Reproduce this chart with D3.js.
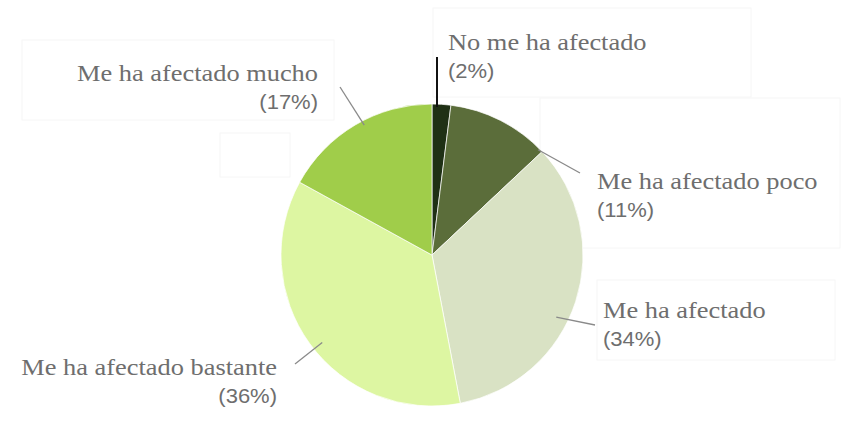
<!DOCTYPE html>
<html>
<head>
<meta charset="utf-8">
<script src="https://cdn.jsdelivr.net/npm/d3@7"></script>
<style>
  html, body { margin: 0; padding: 0; background: #ffffff; }
  svg { display: block; }
  .lbl { font-family: "Liberation Serif", "Tinos", "DejaVu Serif", serif; }
  .pct { font-family: "Liberation Sans", Arimo, Arial, sans-serif; }
</style>
</head>
<body>
<svg id="chart" width="848" height="421"></svg>
<script>
// ---- data ----
const categories = ["No me ha afectado", "Me ha afectado poco", "Me ha afectado", "Me ha afectado bastante", "Me ha afectado mucho"];
const values = [2, 11, 34, 36, 17];
const percentLabels = ["(2%)", "(11%)", "(34%)", "(36%)", "(17%)"];

// ---- styles / layout ----
const colors = ["#1f3015", "#5b6d3a", "#d9e2c4", "#ddf6a2", "#a0cd4a"];
const width = 848, height = 421;
const cx = 432, cy = 255, R = 151;

// label layout: text anchor point, alignment, leader (t within slice, radius fraction, outer end)
const labelLayout = [
  { x: 448, y: 50, anchor: "start", lt: 0.27, lr: 0.98, ex: 437, ey: 57, lc: "#111111", lw: 2 },
  { x: 597, y: 189, anchor: "start", lt: 0.96, lr: 0.99, ex: 580, ey: 173, lc: "#8a8a8a", lw: 1.3 },
  { x: 603, y: 318, anchor: "start", lt: 0.57, lr: 0.92, ex: 595, ey: 325, lc: "#8a8a8a", lw: 1.3 },
  { x: 277, y: 375, anchor: "end", lt: 0.48, lr: 0.93, ex: 295, ey: 364, lc: "#8a8a8a", lw: 1.3 },
  { x: 318, y: 81, anchor: "end", lt: 0.55, lr: 0.97, ex: 340, ey: 87, lc: "#8a8a8a", lw: 1.3 }
];

const svg = d3.select("#chart");

// faint background boxes (artifacts of the original)
const boxes = [
  [433, 8, 318, 89], [22, 40, 312, 80], [220, 133, 70, 44],
  [540, 98, 300, 150], [597, 280, 238, 80]
];
svg.append("g").selectAll("rect").data(boxes).join("rect")
  .attr("x", d => d[0]).attr("y", d => d[1])
  .attr("width", d => d[2]).attr("height", d => d[3])
  .attr("fill", "none").attr("stroke", "#f6f6f6").attr("stroke-width", 1);

const pie = d3.pie().sort(null).value(d => d).startAngle(0).endAngle(2 * Math.PI);
const arcs = pie(values);
const arc = d3.arc().innerRadius(0).outerRadius(R);

const g = svg.append("g").attr("transform", `translate(${cx},${cy})`);
g.selectAll("path").data(arcs).join("path")
  .attr("d", arc)
  .attr("fill", (d, i) => colors[i])
  .attr("stroke", "#ffffff")
  .attr("stroke-opacity", 0.7)
  .attr("stroke-width", 1);

// leader lines
const lines = svg.append("g");
arcs.forEach((a, i) => {
  const L = labelLayout[i];
  const ang = a.startAngle + (a.endAngle - a.startAngle) * L.lt;
  const r = R * L.lr;
  const x0 = cx + r * Math.sin(ang);
  const y0 = cy - r * Math.cos(ang);
  lines.append("line")
    .attr("x1", x0).attr("y1", y0)
    .attr("x2", L.ex).attr("y2", L.ey)
    .attr("stroke", L.lc).attr("stroke-width", L.lw);
});

// labels
const labels = svg.append("g");
categories.forEach((c, i) => {
  const L = labelLayout[i];
  labels.append("text")
    .attr("class", "lbl")
    .attr("transform", `translate(${L.x},${L.y}) scale(1.1,1)`)
    .attr("text-anchor", L.anchor)
    .attr("font-size", 24)
    .attr("fill", "#6e6e6e")
    .text(c);
  labels.append("text")
    .attr("class", "pct")
    .attr("transform", `translate(${L.x},${L.y + 28}) scale(1.1,1)`)
    .attr("text-anchor", L.anchor)
    .attr("font-size", 20)
    .attr("fill", "#6e6e6e")
    .text(percentLabels[i]);
});
</script>
</body>
</html>
